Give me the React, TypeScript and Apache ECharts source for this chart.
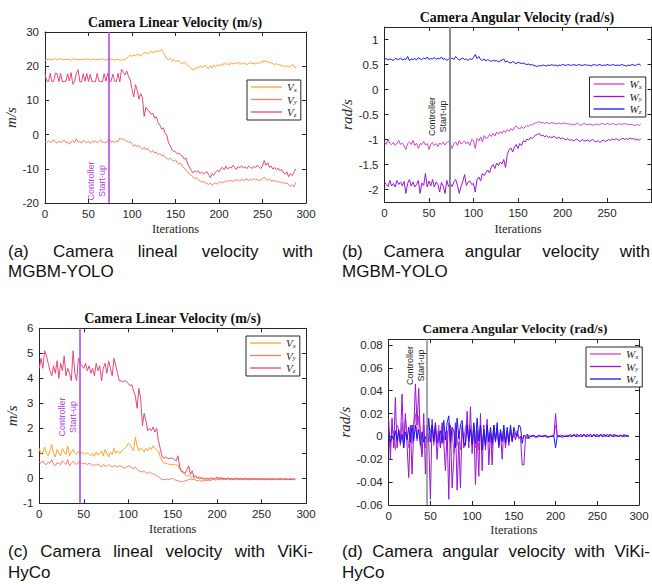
import React, { useEffect, useRef } from "react";
import * as echarts from "echarts";

// iterations are sampled every STEP iterations, starting at 0
const STEP = 2;

// (a) Camera linear velocity, MGBM-YOLO
const linA_Vx = [
  21.8, 22.0, 21.9, 22.1, 21.8, 22.0, 22.2, 21.9, 22.0, 22.3, 21.8, 22.0, 21.9, 22.1, 22.0, 21.7, 22.0, 22.2, 21.9, 22.0, 21.8, 22.1, 22.0, 21.9, 22.2, 22.0, 21.8, 22.0, 22.1, 21.9, 22.0, 21.8, 22.0, 22.2, 21.9, 21.7, 22.0, 21.9, 22.1, 22.0, 21.8, 21.9, 22.0, 21.7, 21.9, 21.8,
  22.0, 22.4, 22.8, 23.2, 22.9, 23.3, 23.1, 23.5, 23.3, 23.0, 23.6, 23.9, 24.0, 23.7, 24.1, 24.3, 24.0, 24.4, 24.2, 24.5, 24.3, 24.9, 24.0, 23.0, 22.4,
  21.8, 22.3, 21.6, 21.9, 21.4, 21.6, 21.5, 21.0, 20.6, 21.2, 20.8, 20.3, 20.0, 19.3, 18.9,
  19.2, 19.6, 19.4, 20.1, 19.8, 19.7, 20.3, 19.6, 19.3, 20.1, 19.5, 20.3, 19.8, 20.4, 20.2,
  20.6, 20.1, 21.0, 20.5, 20.8, 20.3, 21.1, 20.6, 20.9, 20.7, 21.2, 20.5, 20.9, 20.6, 21.0, 20.4, 20.8, 21.1, 20.7, 20.9, 20.6, 21.0, 20.8, 21.3, 21.0,
  21.8, 21.2, 21.5, 20.9, 21.1, 20.7, 20.5, 20.8, 20.3, 20.6, 20.0, 20.2, 19.7, 20.1, 19.8, 20.0, 20.4, 20.3, 19.4,
];
const linA_Vy = [
  -2.0, -2.4, -1.8, -2.3, -2.0, -1.5, -2.2, -2.5, -1.9, -2.3, -2.0, -1.6, -2.4, -2.1, -2.8, -2.0, -1.8, -2.3, -1.2, -2.2, -2.0, -2.5, -1.7, -2.1, -2.3, -1.9, -2.6, -2.0, -2.2, -1.8, -2.4, -2.0, -1.5, -2.3, -2.1, -2.5, -1.9, -1.3, -2.2, -2.0, -2.4, -1.8, -2.1, -1.0, -1.5, -1.2,
  -1.6, -1.9, -2.3, -2.0, -2.8, -3.4, -2.9, -3.6, -3.2, -3.9, -4.3, -3.7, -4.5, -4.0, -4.8, -5.2, -4.6, -5.4, -5.1, -5.9, -5.5, -6.2, -6.0, -6.6, -7.0,
  -7.2, -6.9, -7.5, -7.8, -7.4, -8.2, -8.6, -8.4, -9.3, -9.8, -10.4, -10.9, -11.6, -11.9, -12.3,
  -12.8, -12.6, -13.2, -13.5, -13.9, -13.6, -14.1, -14.3, -14.6, -14.2, -14.8, -14.4, -14.1, -14.5, -14.0,
  -13.8, -14.2, -13.6, -13.9, -13.4, -13.7, -13.3, -13.8, -13.1, -13.5, -13.2, -13.6, -13.0, -13.4, -13.2, -12.9, -13.5, -13.1, -13.4, -12.8, -13.3, -13.0, -13.6, -13.2, -12.9,
  -12.4, -13.1, -13.4, -13.0, -13.6, -13.3, -13.8, -13.5, -14.0, -13.7, -14.2, -13.9, -14.4, -14.1, -14.7, -15.1, -14.6, -15.3, -14.0,
];
const linA_Vz = [
  17.8, 15.6, 15.5, 17.9, 15.4, 15.6, 18.0, 17.8, 15.5, 17.9, 15.4, 15.6, 15.5, 17.8, 15.7, 18.1, 14.7, 15.6, 17.9, 19.0, 15.5, 15.4, 17.8, 15.6, 17.9, 15.5, 17.7, 15.4, 15.6, 15.5, 17.9, 15.6, 15.5, 15.4, 17.8, 15.6, 17.9, 15.5, 15.6, 17.7, 15.6, 15.5, 17.9, 15.4, 19.1, 18.2,
  17.5, 18.6, 17.0, 16.0, 13.2, 11.0, 14.6, 13.0, 10.4, 12.0, 10.8, 5.3, 8.0, 7.2, 6.8, 5.9, 6.2, 4.8, 5.2, 3.5, 2.8, 1.6, 2.0, 0.5, -0.2,
  -2.5, -3.2, -4.5, -4.8, -5.1, -5.6, -5.4, -6.0, -6.3, -7.2, -6.8, -8.6, -9.5, -10.4, -11.2,
  -10.6, -11.0, -10.5, -11.3, -11.0, -11.5, -11.2, -10.8, -11.7, -12.6, -11.4, -11.9, -11.0, -10.4, -10.9,
  -10.0, -9.6, -10.3, -9.2, -10.1, -9.5, -9.8, -9.0, -9.6, -10.2, -9.3, -9.7, -9.1, -9.8, -9.4, -10.0, -9.2, -9.6, -9.9, -9.3, -9.7, -9.0, -9.5, -9.9, -9.2,
  -7.6, -9.0, -8.2, -9.6, -9.2, -10.1, -9.6, -10.3, -9.8, -10.6, -10.2, -11.0, -11.6, -10.9, -12.3, -11.4, -12.0, -11.2, -10.0,
];

// (b) Camera angular velocity, MGBM-YOLO
const angB_Wx = [
  -1.05, -1.10, -1.00, -1.08, -1.10, -1.06, -1.12, -1.08, -1.02, -1.10, -1.07, -1.13, -1.20, -1.08, -1.05, -1.10, -1.02, -1.12, -1.07, -1.18, -1.08, -1.10, -1.04, -1.11, -1.08, -1.20, -1.09, -1.06, -1.12, -1.08, -1.14, -1.07, -1.10, -1.05, -1.11, -1.06, -1.04, -1.09, -1.18, -1.08, -1.05, -1.12, -1.02, -1.09, -1.06, -1.03,
  -1.09, -1.05, -1.12, -1.00, -1.02, -1.18, -0.98, -1.03, -0.95, -1.05, -0.92, -0.98, -0.96, -0.90, -0.94, -0.88, -0.93, -0.85, -0.89, -0.84, -0.88, -0.82, -0.86, -0.80, -0.84,
  -0.78, -0.82, -0.76, -0.73, -0.77, -0.79, -0.74, -0.78, -0.75, -0.72, -0.74, -0.70, -0.71, -0.68, -0.67,
  -0.66, -0.64, -0.67, -0.66, -0.68, -0.66, -0.67, -0.68, -0.66, -0.67, -0.69, -0.68, -0.67, -0.69, -0.68,
  -0.67, -0.69, -0.68, -0.70, -0.69, -0.71, -0.70, -0.68, -0.69, -0.72, -0.70, -0.68, -0.69, -0.71, -0.69, -0.70, -0.72, -0.70, -0.69, -0.71, -0.70, -0.68, -0.69, -0.70, -0.68,
  -0.69, -0.70, -0.68, -0.69, -0.71, -0.70, -0.68, -0.70, -0.69, -0.68, -0.70, -0.69, -0.71, -0.70, -0.72, -0.71, -0.70, -0.72, -0.69,
];
const angB_Wy = [
  -1.85, -1.90, -1.94, -1.82, -1.93, -1.88, -1.95, -1.82, -1.90, -1.85, -1.93, -1.84, -2.08, -1.88, -1.80, -1.93, -1.85, -1.95, -1.90, -1.82, -2.08, -1.87, -1.92, -1.68, -1.95, -1.83, -1.93, -1.80, -1.95, -1.85, -1.90, -2.05, -1.86, -1.93, -2.08, -1.82, -1.94, -1.88, -1.94, -1.85, -1.80, -1.92, -2.08, -1.94, -1.84, -1.70,
  -1.92, -1.85, -1.83, -1.90, -1.88, -2.05, -1.80, -1.75, -1.83, -1.68, -1.72, -1.66, -1.61, -1.67, -1.55, -1.50, -1.58, -1.47, -1.52, -1.45, -1.49, -1.40, -1.56, -1.30, -1.20,
  -1.17, -1.25, -1.15, -1.10, -1.18, -1.08, -1.12, -1.02, -1.05, -0.99, -1.01, -0.96, -0.98, -0.94, -0.91,
  -0.90, -0.88, -0.93, -0.91, -0.95, -0.92, -0.96, -0.94, -0.97, -0.93, -0.96, -0.98, -0.95, -0.99, -0.97,
  -0.99, -1.01, -0.98, -1.02, -1.00, -1.03, -1.01, -0.99, -1.02, -1.04, -1.00, -1.02, -1.03, -1.01, -1.04, -1.02, -1.00, -1.03, -1.05, -1.02, -1.06, -1.03, -1.01, -1.04, -1.02,
  -1.00, -1.02, -0.99, -1.01, -0.98, -1.00, -1.02, -0.99, -0.97, -1.00, -0.98, -1.00, -0.97, -0.99, -0.98, -1.01, -0.99, -1.02, -0.98,
];
const angB_Wz = [
  0.60, 0.62, 0.59, 0.61, 0.60, 0.58, 0.62, 0.61, 0.60, 0.63, 0.59, 0.61, 0.60, 0.66, 0.58, 0.61, 0.60, 0.62, 0.59, 0.64, 0.61, 0.60, 0.63, 0.61, 0.65, 0.60, 0.62, 0.61, 0.64, 0.60, 0.63, 0.61, 0.65, 0.60, 0.62, 0.58, 0.61, 0.60, 0.63, 0.60, 0.66, 0.62, 0.59, 0.61, 0.63, 0.60,
  0.61, 0.58, 0.62, 0.60, 0.64, 0.70, 0.62, 0.66, 0.60, 0.58, 0.61, 0.57, 0.60, 0.58, 0.56, 0.59, 0.57, 0.58, 0.55, 0.57, 0.59, 0.61, 0.55, 0.57, 0.54,
  0.53, 0.56, 0.54, 0.51, 0.55, 0.53, 0.52, 0.53, 0.51, 0.50, 0.51, 0.49, 0.50, 0.48, 0.47,
  0.46, 0.48, 0.47, 0.49, 0.48, 0.47, 0.49, 0.48, 0.50, 0.48, 0.49, 0.47, 0.49, 0.48, 0.50,
  0.49, 0.48, 0.50, 0.49, 0.48, 0.50, 0.49, 0.48, 0.50, 0.49, 0.48, 0.49, 0.50, 0.48, 0.49, 0.47, 0.49, 0.50, 0.48, 0.49, 0.50, 0.48, 0.49, 0.48, 0.50,
  0.49, 0.48, 0.50, 0.49, 0.48, 0.49, 0.48, 0.50, 0.49, 0.48, 0.47, 0.49, 0.48, 0.50, 0.49, 0.48, 0.50, 0.51, 0.48,
];

// (c) Camera linear velocity, ViKi-HyCo
const linC_Vx = [
  1.2, 0.95, 1.05, 1.25, 1.0, 0.9, 1.1, 1.35, 1.0, 0.85, 1.15, 1.0, 0.9, 1.2, 1.05, 0.95, 1.3, 0.9, 1.05, 1.15, 1.0, 0.95, 1.1,
  1.0, 1.05, 0.95, 1.0, 1.02, 0.96, 0.9, 1.0, 0.88, 1.05, 0.92, 1.0, 1.1, 0.9, 1.15, 1.0, 0.85, 1.05, 0.95, 1.2, 1.0, 1.1, 1.0,
  1.05, 1.15, 1.2, 1.25, 1.4, 1.35, 1.2, 1.1, 1.65, 1.3, 1.1, 1.2, 1.15, 1.05, 1.2, 1.1, 1.25, 1.15, 1.3, 1.2, 1.15, 1.1, 0.85, 0.7, 0.6,
  0.6, 0.58, 0.56, 0.55, 0.55, 0.56, 0.52, 0.54, 0.35, 0.25, 0.2, 0.15, 0.1, 0.12, 0.05,
  0.05, 0.02, 0.0, 0.02, -0.02, 0.0, -0.03, -0.05, -0.02, 0.0, -0.04, -0.02, 0.0, -0.03, 0.02,
  0.0, -0.02, 0.01, -0.03, -0.01, 0.0, -0.02, -0.04, -0.01, -0.03, 0.0, -0.02, -0.04, -0.01, -0.03, -0.02, 0.0, -0.03, -0.02, -0.04, -0.01, -0.03, -0.02, -0.04, -0.02,
  -0.03, -0.01, -0.04, -0.02, -0.03, -0.02, -0.04, -0.03, -0.01, -0.03, -0.02, -0.04, -0.03, -0.02, -0.04, -0.03, -0.02, -0.04, -0.03,
];
const linC_Vy = [
  0.65, 0.6, 0.7, 0.58, 0.55, 0.65, 0.6, 0.75, 0.55, 0.5, 0.62, 0.6, 0.55, 0.7, 0.62, 0.55, 0.75, 0.5, 0.6, 0.68, 0.6, 0.55, 0.65,
  0.6, 0.62, 0.58, 0.6, 0.55, 0.6, 0.57, 0.5, 0.55, 0.52, 0.58, 0.5, 0.45, 0.55, 0.5, 0.48, 0.55, 0.5, 0.45, 0.52, 0.48, 0.45, 0.5,
  0.48, 0.45, 0.4, 0.45, 0.48, 0.5, 0.42, 0.38, 0.45, 0.35, 0.3, 0.28, 0.25, 0.3, 0.22, 0.2, 0.25, 0.2, 0.18, 0.15, 0.1, 0.05, 0.0, -0.05, -0.05,
  -0.05, -0.03, -0.05, -0.02, 0.0, -0.05, -0.08, -0.1, -0.12, -0.14, -0.13, -0.1, -0.08, -0.05, -0.03,
  -0.05, -0.03, -0.08, -0.1, -0.07, -0.12, -0.1, -0.08, -0.1, -0.07, -0.09, -0.06, -0.05, -0.07, -0.04,
  -0.05, -0.03, -0.06, -0.04, -0.05, -0.03, -0.04, -0.06, -0.05, -0.04, -0.06, -0.05, -0.03, -0.05, -0.06, -0.04, -0.05, -0.06, -0.04, -0.05, -0.03, -0.05, -0.06, -0.04, -0.05,
  -0.04, -0.06, -0.05, -0.04, -0.06, -0.05, -0.04, -0.05, -0.06, -0.04, -0.05, -0.06, -0.05, -0.04, -0.06, -0.05, -0.04, -0.06, -0.05,
];
const linC_Vz = [
  4.4, 4.8, 4.4, 5.1, 4.9, 4.6, 4.3, 4.1, 4.5, 4.2, 4.7, 4.0, 4.6, 4.3, 4.9, 4.1, 4.4, 4.2, 3.9, 5.1, 4.2, 3.9, 4.8,
  4.6, 4.5, 4.4, 4.6, 4.3, 4.5, 4.2, 4.4, 4.1, 4.6, 4.3, 4.5, 3.9, 4.4, 4.6, 4.2, 4.7, 4.4, 4.1, 4.8, 4.5, 4.2, 3.9,
  3.9, 3.85, 3.9, 3.88, 3.8, 3.7, 3.75, 3.5, 3.3, 2.8, 3.6, 3.2, 2.1, 2.6, 2.3, 1.9, 2.0, 1.9, 2.05, 1.85, 2.0, 1.5, 1.2, 0.9, 0.8,
  0.85, 0.8, 0.78, 0.82, 0.8, 0.75, 0.7, 0.9, 0.45, 0.3, 0.25, 0.2, 0.35, 0.5, 0.15,
  0.3, 0.05, 0.1, 0.02, 0.05, 0.0, 0.02, -0.02, 0.0, -0.05, 0.0, 0.02, -0.03, 0.0, 0.05,
  0.0, 0.02, -0.01, 0.0, -0.03, 0.01, -0.02, 0.0, -0.04, -0.02, 0.0, -0.03, -0.01, -0.04, -0.02, 0.0, -0.03, -0.02, -0.04, -0.01, -0.03, -0.02, -0.04, -0.01, -0.03,
  -0.02, -0.04, -0.03, -0.01, -0.04, -0.02, -0.03, -0.05, -0.02, -0.03, -0.01, -0.04, -0.02, -0.03, -0.05, -0.02, -0.04, -0.03, -0.02,
];

// (d) Camera angular velocity, ViKi-HyCo
const angD_Wx = [
  0.005, -0.01, 0.008, 0.002, -0.012, 0.01, 0.006, -0.008, 0.012, -0.005, 0.015, 0.003, -0.01, 0.008, -0.006, 0.012, 0.02, -0.004, 0.018, 0.005, -0.015, 0.01, -0.01,
  0.008, -0.005, 0.005, 0.01, -0.008, 0.006, -0.004, 0.01, -0.01, 0.008, -0.006, 0.004, -0.012, 0.012, -0.01, 0.006, -0.015, 0.01, -0.008, 0.005, -0.012, 0.008, -0.004,
  0.008, 0.012, -0.005, 0.01, -0.008, 0.004, -0.01, 0.006, -0.012, 0.01, -0.006, 0.005, -0.008, 0.01, -0.005, 0.004, -0.01, 0.008, -0.004, 0.006, -0.008, 0.004, -0.005, 0.003, -0.004,
  0.003, -0.003, 0.004, -0.002, 0.002, -0.002, 0.003, -0.001, 0.0, -0.002, 0.001, 0.0, -0.001, 0.001, 0.0,
  0.0, 0.001, 0.0, -0.001, 0.0, 0.001, 0.0, 0.0, 0.001, 0.0, -0.001, 0.0, 0.0, 0.001, 0.01,
  0.0, 0.0, 0.001, 0.0, 0.0, 0.001, 0.0, 0.0, 0.002, 0.0, 0.002, 0.001, 0.002, 0.0, 0.002, 0.001, 0.002, 0.0, 0.002, 0.001, 0.002, 0.0, 0.002, 0.001, 0.002,
  0.0, 0.002, 0.001, 0.002, 0.0, 0.002, 0.001, 0.002, 0.0, 0.002, 0.001, 0.001, 0.0, 0.001, 0.0, 0.001, 0.0, 0.001, 0.0,
];
const angD_Wy = [
  0.015, -0.02, 0.016, -0.01, 0.034, -0.01, 0.005, -0.005, 0.037, -0.01, 0.02, -0.008, -0.036, 0.01, -0.033, 0.005, 0.046, 0.01, 0.042, -0.005, -0.018, 0.02, -0.033,
  0.01, -0.005, -0.055, 0.015, -0.005, 0.01, -0.02, 0.005, -0.01, 0.012, -0.005, -0.03, 0.005, -0.055, 0.01, -0.045, -0.02, 0.012, -0.047, -0.005, -0.045, 0.01, -0.01,
  -0.005, 0.022, -0.01, 0.026, -0.015, 0.01, -0.042, 0.005, -0.035, 0.02, -0.03, 0.01, -0.012, 0.015, -0.025, 0.005, -0.025, 0.01, -0.005, 0.008, -0.01, 0.005, -0.02, 0.007, -0.01,
  0.005, -0.008, 0.007, -0.005, 0.004, -0.003, 0.005, -0.002, 0.0, -0.025, -0.025, 0.0, -0.002, 0.001, 0.0,
  0.001, 0.0, -0.001, 0.0, 0.001, 0.0, 0.0, 0.001, 0.0, -0.001, 0.0, 0.0, 0.001, 0.0, 0.02,
  0.0, 0.001, 0.0, -0.001, 0.0, 0.0, 0.001, 0.0, 0.002, 0.0, 0.002, 0.0, 0.002, 0.0, 0.002, 0.0, 0.002, 0.0, 0.002, 0.0, 0.002, 0.0, 0.002, 0.0, 0.002,
  0.0, 0.002, 0.0, 0.002, 0.0, 0.002, 0.0, 0.002, 0.0, 0.002, 0.0, 0.001, 0.0, 0.001, 0.0, 0.002, 0.0, 0.001, 0.0,
];
const angD_Wz = [
  0.005, -0.005, 0.0, -0.003, 0.005, -0.004, 0.006, -0.006, 0.002, -0.01, 0.004, -0.003, 0.008, -0.005, 0.01, -0.004, 0.01, -0.002, 0.006, -0.008, 0.004, -0.005, 0.0,
  -0.005, 0.016, -0.005, 0.01, -0.004, 0.012, -0.006, -0.002, 0.005, -0.006, 0.014, -0.003, 0.012, 0.018, -0.005, 0.008, 0.005, -0.01, 0.016, -0.002, 0.01, 0.014, -0.005,
  -0.008, 0.01, -0.004, 0.006, -0.007, 0.012, -0.006, 0.016, -0.004, 0.01, -0.012, 0.006, -0.008, 0.01, -0.005, 0.008, -0.006, 0.01, -0.004, 0.012, -0.008, 0.006, -0.004, 0.01, -0.006,
  0.008, -0.005, 0.01, -0.004, 0.008, 0.002, 0.0, 0.01, 0.008, -0.006, 0.001, 0.0, 0.002, -0.002, 0.0,
  0.0, 0.001, 0.0, 0.0, 0.001, 0.0, 0.0, 0.0, 0.001, 0.0, 0.0, 0.0, 0.0, 0.0, -0.01,
  0.0, 0.0, 0.0, 0.001, 0.0, 0.0, 0.0, 0.001, 0.0, 0.0, 0.001, 0.0, 0.0, 0.001, 0.0, 0.0, 0.001, 0.0, 0.0, 0.001, 0.0, 0.0, 0.001, 0.0, 0.0,
  0.0, 0.001, 0.0, 0.0, 0.001, 0.0, 0.0, 0.001, 0.0, 0.0, 0.001, 0.0, 0.0, 0.001, 0.0, 0.0, 0.001, 0.0, 0.0,
];

// controller start-up iteration in each run
const START_A = 73;
const START_B = 73;
const START_C = 45;
const START_D = 46;

// tick values
const X_MIN = 0;
const X_MAX = 300;
const X_INTERVAL = 50;
const Y_TICKS_A = [-20, -10, 0, 10, 20, 30];
const Y_TICKS_B = [-2, -1.5, -1, -0.5, 0, 0.5, 1];
const Y_TICKS_C = [-1, 0, 1, 2, 3, 4, 5, 6];
const Y_TICKS_D = [-0.06, -0.04, -0.02, 0, 0.02, 0.04, 0.06, 0.08];

const TITLES = [
  "Camera Linear Velocity (m/s)",
  "Camera Angular Velocity (rad/s)",
  "Camera Linear Velocity (m/s)",
  "Camera Angular Velocity (rad/s)",
];
const CAPTIONS = [
  ["(a) Camera lineal velocity with", "MGBM-YOLO"],
  ["(b) Camera angular velocity with", "MGBM-YOLO"],
  ["(c) Camera lineal velocity with ViKi-", "HyCo"],
  ["(d) Camera angular velocity with ViKi-", "HyCo"],
];

const AX = "#262626";
const C_VX = "#FBA431";
const C_VY = "#F7806C";
const C_VZ = "#E4487C";
const C_WX = "#D442C6";
const C_WY = "#9A16D4";
const C_WZ = "#1717F2";
const C_START = "#B03FE0";
const C_GRAY = "#8a8a8a";

const SANS = '"Liberation Sans", Arial, Helvetica, sans-serif';
const SERIF = '"Liberation Serif", "Times New Roman", serif';

type Panel = {
  grid: { left: number; top: number; width: number; height: number };
  yMin: number;
  yMax: number;
  yTicks: number[];
  yName: string;
  yNameGap: number;
  xNameGap: number;
  hideMaxX: boolean;
  series: { name: string; data: number[]; color: string }[];
  start: number;
  startColor: string;
  startWidth: number;
  startText: string;
  startLabelY: number;
  legend: { left: number; top: number };
  title: { x: number; y: number; size: number };
};

const panels: Panel[] = [
  {
    grid: { left: 45, top: 32, width: 261, height: 171 },
    yMin: -20, yMax: 30, yTicks: Y_TICKS_A, yName: "m/s", yNameGap: 22, xNameGap: 19, hideMaxX: false,
    series: [
      { name: "Vx·a", data: linA_Vx, color: C_VX },
      { name: "Vy·a", data: linA_Vy, color: C_VY },
      { name: "Vz·a", data: linA_Vz, color: C_VZ },
    ],
    start: START_A, startColor: C_START, startWidth: 1.5, startText: C_START, startLabelY: -13.6,
    legend: { left: 247, top: 80 },
    title: { x: 175, y: 22, size: 13.8 },
  },
  {
    grid: { left: 384.5, top: 27, width: 267, height: 175 },
    yMin: -2.25, yMax: 1.25, yTicks: Y_TICKS_B, yName: "rad/s", yNameGap: 26, xNameGap: 20, hideMaxX: true,
    series: [
      { name: "Wx·b", data: angB_Wx, color: C_WX },
      { name: "Wy·b", data: angB_Wy, color: C_WY },
      { name: "Wz·b", data: angB_Wz, color: C_WZ },
    ],
    start: START_B, startColor: C_GRAY, startWidth: 2, startText: AX, startLabelY: -0.54,
    legend: { left: 589.5, top: 77 },
    title: { x: 517, y: 17, size: 14 },
  },
  {
    grid: { left: 39.3, top: 328.3, width: 266.7, height: 175 },
    yMin: -1, yMax: 6, yTicks: Y_TICKS_C, yName: "m/s", yNameGap: 19, xNameGap: 19.5, hideMaxX: false,
    series: [
      { name: "Vx·c", data: linC_Vx, color: C_VX },
      { name: "Vy·c", data: linC_Vy, color: C_VY },
      { name: "Vz·c", data: linC_Vz, color: C_VZ },
    ],
    start: START_C, startColor: C_START, startWidth: 1.5, startText: C_START, startLabelY: 2.45,
    legend: { left: 246, top: 336 },
    title: { x: 172.5, y: 318, size: 14 },
  },
  {
    grid: { left: 388.7, top: 339.3, width: 250.3, height: 165.7 },
    yMin: -0.06, yMax: 0.085, yTicks: Y_TICKS_D, yName: "rad/s", yNameGap: 30, xNameGap: 18, hideMaxX: false,
    series: [
      { name: "Wx·d", data: angD_Wx, color: C_WX },
      { name: "Wy·d", data: angD_Wy, color: C_WY },
      { name: "Wz·d", data: angD_Wz, color: C_WZ },
    ],
    start: START_D, startColor: C_GRAY, startWidth: 1.5, startText: AX, startLabelY: 0.062,
    legend: { left: 586, top: 347 },
    title: { x: 515, y: 328, size: 13.3 },
  },
];

const fmtTick = (v: number) => String(Number(v.toFixed(3)));

function justifyLine(text: string, x0: number, x1: number, y: number, font: string, id: string) {
  const words = text.split(" ");
  const ctx = document.createElement("canvas").getContext("2d")!;
  ctx.font = font;
  const widths = words.map((w) => ctx.measureText(w).width);
  const total = widths.reduce((a, b) => a + b, 0);
  const gap = words.length > 1 ? (x1 - x0 - total) / (words.length - 1) : 0;
  let x = x0;
  return words.map((w, i) => {
    const el = {
      type: "text",
      id: `${id}-${i}`,
      x,
      y,
      style: {
        text: w,
        fontFamily: SANS,
        fontSize: 17,
        fill: "#111",
        textAlign: "left",
        textVerticalAlign: "middle",
      },
    };
    x += widths[i] + gap;
    return el;
  });
}

function buildOption() {
  const grids: any[] = [];
  const xAxes: any[] = [];
  const yAxes: any[] = [];
  const series: any[] = [];
  const legends: any[] = [];
  const graphics: any[] = [];

  panels.forEach((p, k) => {
    grids.push({ ...p.grid, show: false });
    const axLine = { show: true, onZero: false, lineStyle: { color: AX, width: 1 } };
    const tick = { show: true, inside: true, length: 4, lineStyle: { color: AX, width: 1 } };
    const xBase = {
      type: "value", gridIndex: k, min: X_MIN, max: X_MAX, interval: X_INTERVAL,
      splitLine: { show: false }, axisLine: axLine, axisTick: tick,
    };
    xAxes.push({
      ...xBase,
      position: "bottom",
      name: "Iterations",
      nameLocation: "middle",
      nameGap: p.xNameGap,
      nameTextStyle: { fontFamily: SERIF, fontSize: 12.5, color: AX },
      axisLabel: {
        show: true, color: AX, fontFamily: SANS, fontSize: 11.5, margin: 5,
        showMaxLabel: !p.hideMaxX, showMinLabel: true,
      },
    });
    xAxes.push({ ...xBase, position: "top", axisLabel: { show: false } });

    const yBase = {
      type: "value", gridIndex: k, min: p.yMin, max: p.yMax,
      splitLine: { show: false }, axisLine: axLine,
      axisTick: { ...tick, customValues: p.yTicks },
    };
    yAxes.push({
      ...yBase,
      position: "left",
      name: p.yName,
      nameLocation: "middle",
      nameRotate: 90,
      nameGap: p.yNameGap,
      nameTextStyle: { fontFamily: SERIF, fontStyle: "italic", fontSize: 15, color: AX },
      axisLabel: {
        show: true, color: AX, fontFamily: SANS, fontSize: 11.5, margin: 6,
        customValues: p.yTicks, formatter: fmtTick,
      },
    });
    yAxes.push({ ...yBase, position: "right", axisLabel: { show: false } });

    p.series.forEach((s, j) => {
      series.push({
        type: "line",
        name: s.name,
        xAxisIndex: 2 * k,
        yAxisIndex: 2 * k,
        data: s.data.map((v, i) => [i * STEP, v]),
        symbol: "none",
        showSymbol: false,
        lineStyle: { color: s.color, width: 1 },
        itemStyle: { color: s.color },
        z: 2 + j,
        markLine:
          j === 0
            ? {
                silent: true,
                symbol: ["none", "none"],
                label: { show: false },
                lineStyle: { color: p.startColor, width: p.startWidth, type: "solid" },
                data: [{ xAxis: p.start }],
              }
            : undefined,
      });
    });

    legends.push({
      show: true,
      orient: "vertical",
      left: p.legend.left,
      top: p.legend.top,
      data: p.series.map((s) => ({ name: s.name, icon: "rect", itemStyle: { color: s.color } })),
      selectedMode: false,
      backgroundColor: "#fff",
      borderColor: AX,
      borderWidth: 1,
      borderRadius: 0,
      padding: [1, 4, 2, 4],
      itemGap: 0.5,
      itemWidth: 31,
      itemHeight: 1.3,
      formatter: (name: string) => `{m|${name[0]}}{s|${name[1]}}`,
      textStyle: {
        fontSize: 11,
        lineHeight: 8,
        rich: {
          m: { fontFamily: SERIF, fontStyle: "italic", fontSize: 11, color: AX, lineHeight: 8 },
          s: { fontFamily: SERIF, fontStyle: "italic", fontSize: 7, color: AX, lineHeight: 2, padding: [5, 0, 0, 0] },
        },
      },
    });

    graphics.push({
      type: "text",
      id: `title-${k}`,
      x: p.title.x,
      y: p.title.y,
      style: {
        text: TITLES[k],
        fontFamily: SERIF,
        fontWeight: "bold",
        fontSize: p.title.size,
        fill: "#111",
        textAlign: "center",
        textVerticalAlign: "middle",
      },
    });
  });

  const capFont = `17px ${SANS}`;
  const cols = [
    [8, 313],
    [342, 650],
  ];
  const rows = [
    [251, 271],
    [551, 572],
  ];
  CAPTIONS.forEach((cap, k) => {
    const [x0, x1] = cols[k % 2];
    const [y1, y2] = rows[Math.floor(k / 2)];
    graphics.push(...justifyLine(cap[0], x0, x1, y1, capFont, `cap-${k}-1`));
    graphics.push({
      type: "text",
      id: `cap-${k}-2`,
      x: x0,
      y: y2,
      style: {
        text: cap[1], fontFamily: SANS, fontSize: 17, fill: "#111",
        textAlign: "left", textVerticalAlign: "middle",
      },
    });
  });

  return {
    animation: false,
    backgroundColor: "#fff",
    grid: grids,
    xAxis: xAxes,
    yAxis: yAxes,
    series,
    legend: legends,
    graphic: { elements: graphics },
  };
}

export default function App() {
  const ref = useRef<HTMLDivElement>(null);
  useEffect(() => {
    if (!ref.current) return;
    const chart = echarts.init(ref.current, undefined, { renderer: "svg" });
    chart.setOption(buildOption() as any);
    const labels = panels.map((p, k) => {
      const pt = chart.convertToPixel({ gridIndex: k } as any, [p.start, p.startLabelY]) as number[];
      return {
        type: "text",
        id: `start-${k}`,
        x: pt[0] - 12,
        y: pt[1],
        rotation: Math.PI / 2,
        style: {
          text: "Controller\nStart-up",
          fontFamily: SANS,
          fontSize: 9,
          lineHeight: 11,
          fill: p.startText,
          textAlign: "center",
          textVerticalAlign: "middle",
        },
      };
    });
    chart.setOption({ graphic: { elements: labels } } as any);
    return () => chart.dispose();
  }, []);
  return (
    <div
      ref={ref}
      style={{ position: "absolute", left: 0, top: 0, width: 652, height: 584, background: "#fff" }}
    />
  );
}
